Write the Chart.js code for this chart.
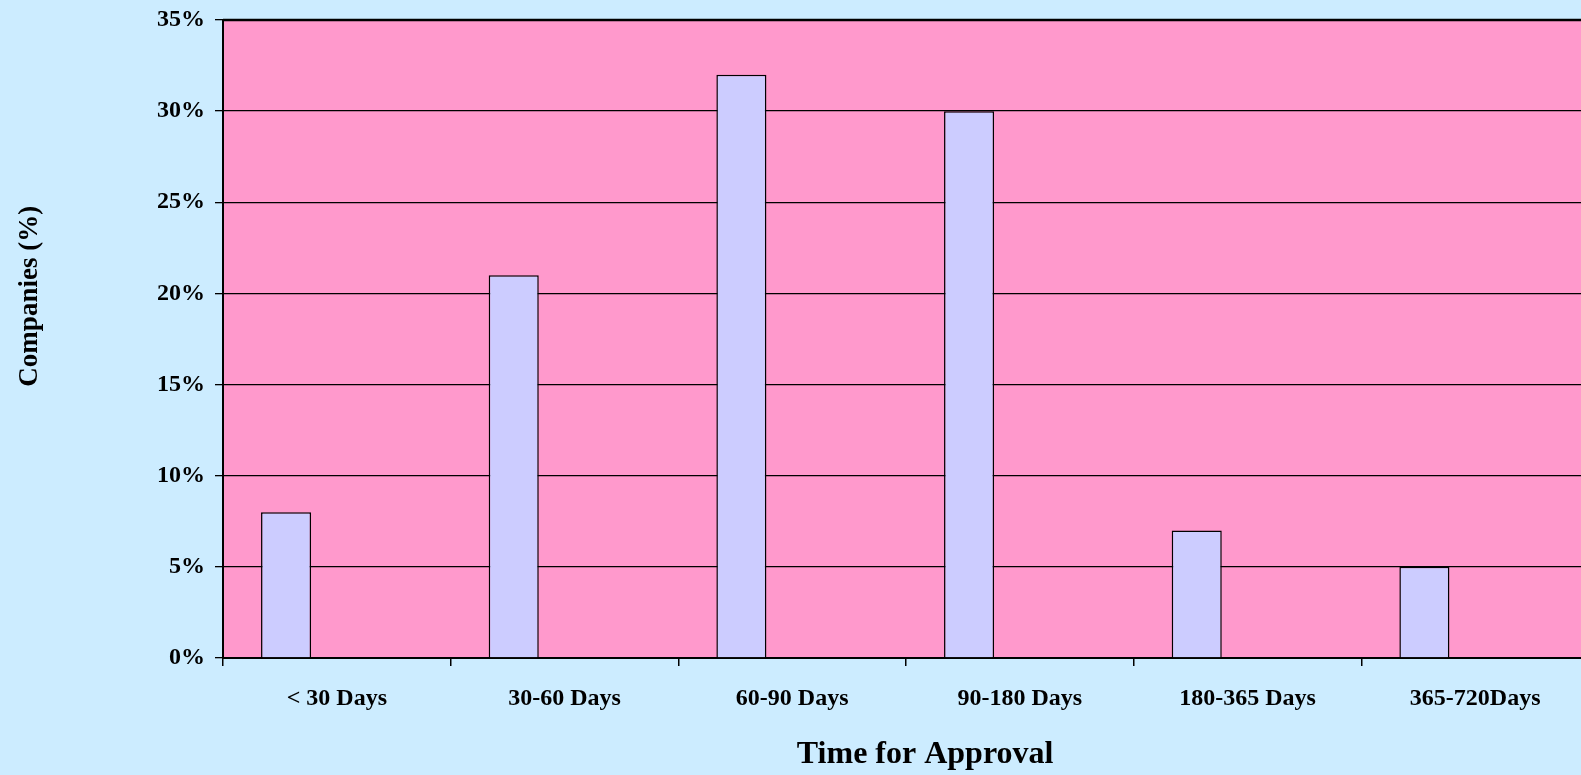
<!DOCTYPE html>
<html>
<head>
<meta charset="utf-8">
<script src="https://cdn.jsdelivr.net/npm/chart.js@4/dist/chart.umd.min.js"></script>
<style>
  html, body { margin: 0; padding: 0; background: #CCECFF; overflow: hidden; }
  #wrap { width: 1600px; height: 775px; }
</style>
</head>
<body>
<div id="wrap"><canvas id="chart"></canvas></div>
<script>
const categories = ['< 30 Days', '30-60 Days', '60-90 Days', '90-180 Days', '180-365 Days', '365-720Days'];
const companiesPct = [8, 21, 32, 30, 7, 5];
const emptySeries = [null, null, null, null, null, null];
const yMax = 35;
const yStep = 5;
const xTitle = 'Time for Approval';
const yTitle = 'Companies (%)';

const serif = '"Liberation Serif", "Times New Roman", serif';

// plot area fill, top border, and the two axis titles (placed off-centre like the original)
const plotDecor = {
    id: 'plotDecor',
    beforeDraw(chart) {
        const { ctx, chartArea: a } = chart;
        ctx.save();
        ctx.fillStyle = '#FF99CC';
        ctx.fillRect(a.left, a.top, a.right - a.left, a.bottom - a.top);
        ctx.restore();
    },
    afterDraw(chart) {
        const { ctx, chartArea: a } = chart;
        ctx.save();
        ctx.strokeStyle = '#000';
        ctx.lineWidth = 2.5;
        ctx.beginPath();
        ctx.moveTo(a.left, a.top);
        ctx.lineTo(a.right, a.top);
        ctx.stroke();

        ctx.fillStyle = '#000';
        ctx.textAlign = 'center';
        ctx.textBaseline = 'middle';
        ctx.font = 'bold 32px ' + serif;
        ctx.fillText(xTitle, a.left + (a.right - a.left) * 0.514, 755);

        ctx.font = 'bold 27px ' + serif;
        ctx.translate(30, a.top + (a.bottom - a.top) * 0.433);
        ctx.rotate(-Math.PI / 2);
        ctx.fillText(yTitle, 0, 0);
        ctx.restore();
    }
};

new Chart(document.getElementById('chart'), {
    type: 'bar',
    data: {
        labels: categories,
        datasets: [
            {
                label: 'Companies',
                data: companiesPct,
                backgroundColor: '#CCCCFF',
                borderColor: '#000',
                borderWidth: 1.5,
                categoryPercentage: 0.892,
                barPercentage: 0.493,
            },
            {
                label: '',
                data: emptySeries,
                categoryPercentage: 0.892,
                barPercentage: 0.493,
            },
        ],
    },
    options: {
        responsive: true,
        maintainAspectRatio: false,
        animation: false,
        layout: { padding: { top: 20, right: 11, left: 0, bottom: 0 } },
        plugins: {
            legend: { display: false },
            tooltip: { enabled: false },
        },
        scales: {
            x: {
                grid: {
                    offset: true,
                    drawOnChartArea: false,
                    drawTicks: true,
                    tickLength: 8,
                    color: '#000',
                    lineWidth: 1.5,
                },
                border: { color: '#000', width: 2 },
                ticks: {
                    color: '#000',
                    padding: 18,
                    maxRotation: 0,
                    font: { family: serif, weight: 'bold', size: 24 },
                },
                afterFit(scale) { scale.height = 117; },
            },
            y: {
                min: 0,
                max: yMax,
                grid: {
                    color: '#000',
                    lineWidth: 1.3,
                    tickLength: 8,
                },
                border: { color: '#000', width: 2 },
                ticks: {
                    stepSize: yStep,
                    color: '#000',
                    padding: 10,
                    font: { family: serif, weight: 'bold', size: 24 },
                    callback: (v) => v + '%',
                },
                afterFit(scale) {
                    scale.width = 223;
                    scale.paddingTop = 0;
                    scale.paddingBottom = 0;
                },
            },
        },
    },
    plugins: [plotDecor],
});
</script>
</body>
</html>
